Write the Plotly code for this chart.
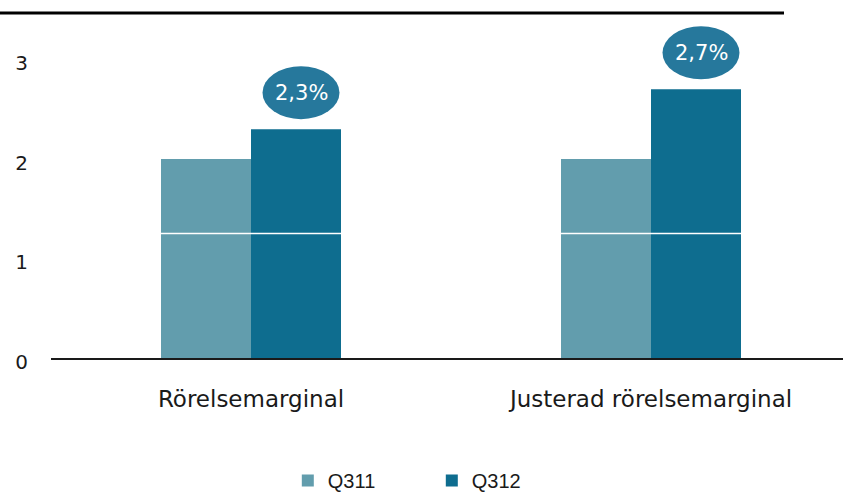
import plotly.graph_objects as go

categories = ["Rörelsemarginal", "Justerad rörelsemarginal"]
series_names = ["Q311", "Q312"]
q311_values = [2.0, 2.0]
q312_values = [2.3, 2.7]
bubble_labels = ["2,3%", "2,7%"]
y_ticks = [0, 1, 2, 3]
white_rule_value = [1.25]

c311 = "#629DAD"
c312 = "#0E6D8F"
bubble_color = "#26789C"
font_fam = "DejaVu Sans"

fig = go.Figure()
fig.add_trace(go.Bar(name=series_names[0], x=categories, y=q311_values,
                     marker=dict(color=c311, line=dict(width=0))))
fig.add_trace(go.Bar(name=series_names[1], x=categories, y=q312_values,
                     marker=dict(color=c312, line=dict(width=0))))

shapes = []
annotations = []
for i, (v, lab) in enumerate(zip(q312_values, bubble_labels)):
    shapes.append(dict(type="circle", xref="x", yref="y",
                       xsizemode="pixel", ysizemode="pixel",
                       xanchor=i, yanchor=v,
                       x0=11.5, x1=88.5, y0=10, y1=63,
                       fillcolor=bubble_color, line=dict(width=0),
                       layer="above"))
    annotations.append(dict(x=i, y=v, xref="x", yref="y", text=lab,
                            showarrow=False, xshift=50, yshift=36.5,
                            font=dict(family=font_fam, size=21, color="white")))

for w in white_rule_value:
    shapes.append(dict(type="line", xref="paper", yref="y", x0=0, x1=1,
                       y0=w, y1=w, line=dict(color="white", width=1.5),
                       layer="above"))

# top rule
shapes.append(dict(type="line", xref="paper", yref="paper",
                   x0=-51 / 792, x1=(784 - 51) / 792, y0=1, y1=1,
                   line=dict(color="black", width=3), layer="above"))

fig.update_layout(
    width=843, height=493,
    margin=dict(l=51, r=0, t=13, b=135, pad=0, autoexpand=False),
    paper_bgcolor="white", plot_bgcolor="white",
    barmode="group", bargap=0.55, bargroupgap=0,
    font=dict(family=font_fam, size=20, color="#1a1a1a"),
    shapes=shapes, annotations=annotations,
    xaxis=dict(range=[-0.5, 1.48], showgrid=False, showline=True,
               linecolor="#1a1a1a", linewidth=1.5, ticks="",
               tickfont=dict(family=font_fam, size=23, color="#1a1a1a"),
               ticklabelstandoff=20, fixedrange=True, automargin=False),
    yaxis=dict(range=[0, 3.467], tickvals=y_ticks, showgrid=False,
               zeroline=False, showline=False, ticks="",
               tickfont=dict(family=font_fam, size=20, color="#1a1a1a"),
               ticklabelstandoff=22, ticklabelshift=4, fixedrange=True,
               automargin=False),
    legend=dict(orientation="h", x=0.299, xanchor="left", y=-0.355,
                yanchor="middle", entrywidth=99, entrywidthmode="pixels",
                font=dict(family="Liberation Sans", size=20, color="#1a1a1a"),
                bgcolor="rgba(0,0,0,0)"),
    showlegend=True,
)

fig.write_html("out.html", config={"displayModeBar": False},
               post_script="document.body.style.margin='0';document.body.style.overflow='hidden';")
